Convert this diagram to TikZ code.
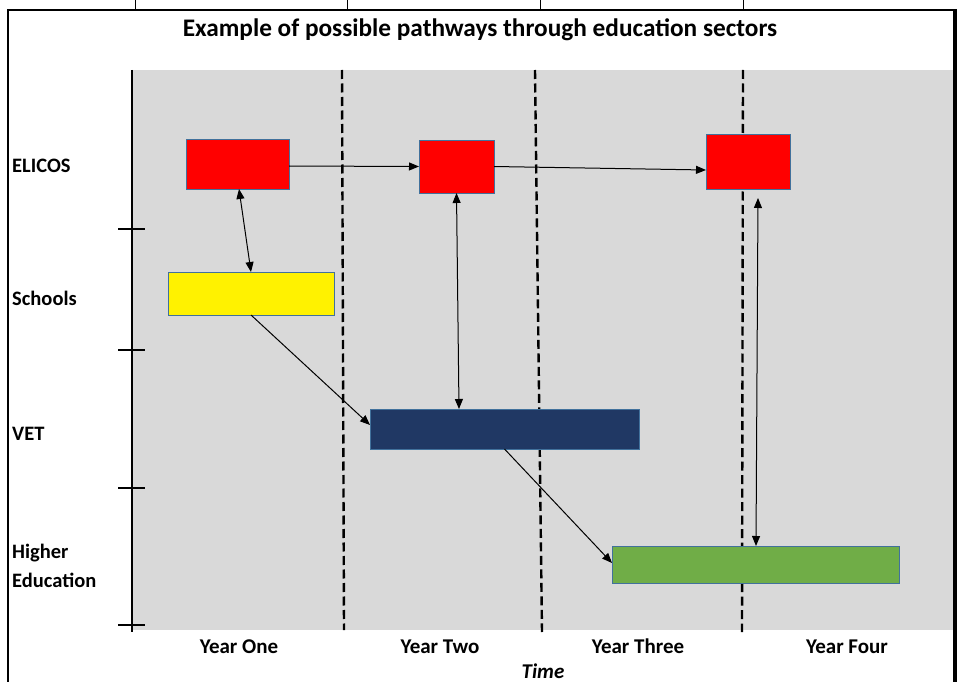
\documentclass[tikz,border=0pt]{standalone}
\usepackage{fontspec}
\setmainfont{Carlito}
\usetikzlibrary{arrows.meta}
\definecolor{panel}{HTML}{D9D9D9}
\definecolor{outl}{HTML}{41719C}
\definecolor{navy}{HTML}{203864}
\definecolor{hegreen}{HTML}{70AD47}
\tikzset{
  box/.style={draw=outl, line width=0.8pt, rectangle, inner sep=0pt, outer sep=0pt},
  arr/.style={line width=1pt, -{Triangle[length=10pt,width=8pt]}},
  darr/.style={line width=1pt, {Triangle[length=10pt,width=8pt]}-{Triangle[length=10pt,width=8pt]}},
  yeardash/.style={line width=2.4pt, dash pattern=on 9pt off 4.5pt},
  rowlab/.style={font=\bfseries\fontsize{20.5}{29}\selectfont, anchor=base west, align=left, inner sep=0pt},
  collab/.style={font=\bfseries\fontsize{21}{25}\selectfont, anchor=base, inner sep=0pt},
}
\begin{document}
\begin{tikzpicture}[x=1pt,y=-1pt]
\useasboundingbox (0,0) rectangle (959,682);
% panel
\fill[panel] (133,70) rectangle (953,630);
% frame
\draw[line width=2pt] (8,682) -- (8,10) -- (957,10);
\draw[line width=4pt] (955,10) -- (955,682);
\foreach \gx in {135,347,540,743} \draw[line width=1pt] (\gx,0) -- (\gx,10);
% y axis
\draw[line width=2.5pt] (132,70) -- (132,632);
\foreach \ty in {229,350,488,625} \draw[line width=2.5pt] (118,\ty) -- (145,\ty);
% dashed year separators
\draw[yeardash] (342,70) -- (344,630);
\draw[yeardash] (535,70) -- (542,632);
\draw[yeardash] (743,70) -- (742,632);
% boxes
\node[box, fill=red, minimum width=103pt, minimum height=50pt] (e1) at (237.5,164) {};
\node[box, fill=red, minimum width=75pt, minimum height=53pt] (e2) at (456.5,166.5) {};
\node[box, fill=red, minimum width=84pt, minimum height=55pt] (e3) at (748,161.5) {};
\node[box, fill=yellow, minimum width=166pt, minimum height=43pt] (sch) at (251,293.5) {};
\node[box, fill=navy, minimum width=269pt, minimum height=40pt] (vet) at (504.5,429) {};
\node[box, fill=hegreen, minimum width=287pt, minimum height=37pt] (he) at (755.5,564.5) {};
% connectors
\draw[arr] ([yshift=-2pt]e1.east) -- (e2.west);
\draw[arr] (e2.east) -- ([yshift=-8.5pt]e3.west);
\draw[darr] ([xshift=1.5pt]e1.south) -- (sch.north);
\draw[arr] (sch.south) -- ([yshift=4pt]vet.west);
\draw[darr] (e2.south) -- ([xshift=-45.5pt]vet.north);
\draw[arr] (vet.south) -- ([yshift=1.5pt]he.west);
\draw[darr] ([xshift=10pt,yshift=-9pt]e3.south) -- ([xshift=0.5pt]he.north);
% texts
\node[font=\bfseries\fontsize{25.3}{30}\selectfont, inner sep=0pt] (title) at (480,30) {Example of possible pathways through education sectors};
\node[rowlab] (l1) at (12,172.5) {ELICOS};
\node[rowlab] (l2) at (12,305) {Schools};
\node[rowlab] (l3) at (12,440) {VET};
\node[rowlab] (l4) at (12,587) {Higher\\Education};
\node[collab] (y1) at (239,653) {Year One};
\node[collab] (y2) at (440,653) {Year Two};
\node[collab] (y3) at (638,653) {Year Three};
\node[collab] (y4) at (847,653) {Year Four};
\node[font=\bfseries\itshape\fontsize{21}{25}\selectfont, anchor=base, inner sep=0pt] (time) at (543,678) {Time};
\end{tikzpicture}
\end{document}
